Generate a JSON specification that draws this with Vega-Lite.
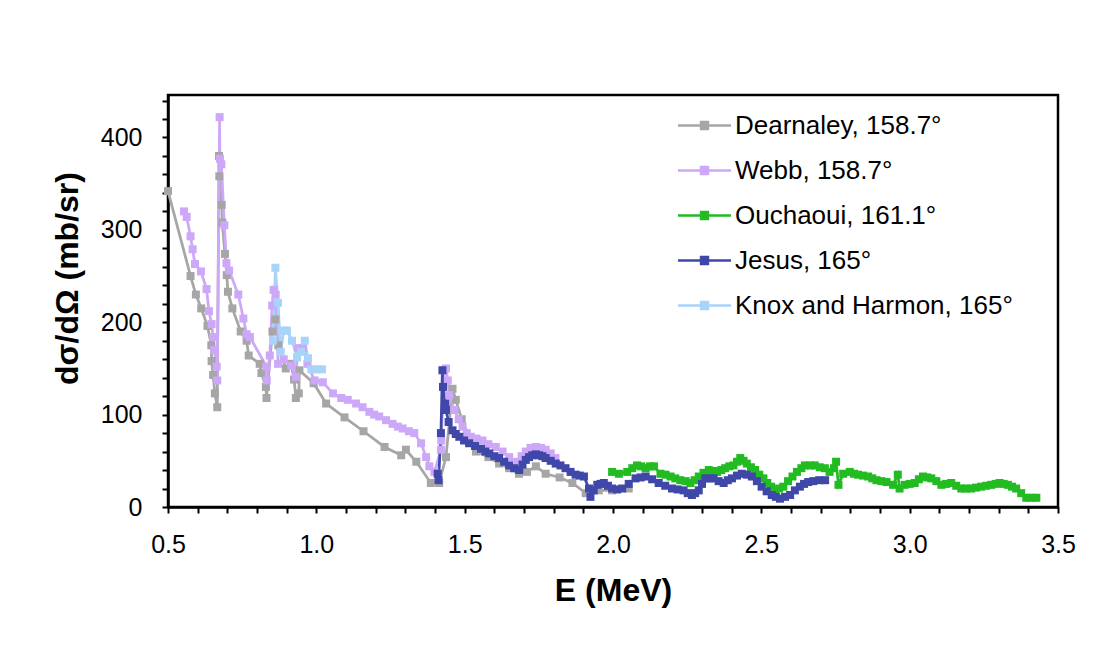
{
  "$schema": "https://vega.github.io/schema/vega-lite/v6.json",
  "width": 890,
  "height": 412,
  "autosize": "none",
  "padding": {"left": 168, "top": 95, "right": 41, "bottom": 141},
  "background": "white",
  "config": {
    "view": {"stroke": "#000", "strokeWidth": 2.5},
    "font": "Liberation Sans"
  },
  "data": {"values": [
    {"s":"D","E":0.500,"v":342,"i":1},{"s":"D","E":0.576,"v":250,"i":2},{"s":"D","E":0.594,"v":230,"i":3},{"s":"D","E":0.612,"v":215,"i":4},{"s":"D","E":0.633,"v":196,"i":5},{"s":"D","E":0.646,"v":175,"i":6},{"s":"D","E":0.647,"v":158,"i":7},{"s":"D","E":0.652,"v":143,"i":8},{"s":"D","E":0.658,"v":123,"i":9},{"s":"D","E":0.666,"v":108,"i":10},{"s":"D","E":0.672,"v":380,"i":11},{"s":"D","E":0.673,"v":358,"i":12},{"s":"D","E":0.681,"v":327,"i":13},{"s":"D","E":0.683,"v":308,"i":14},{"s":"D","E":0.692,"v":274,"i":15},{"s":"D","E":0.698,"v":251,"i":16},{"s":"D","E":0.702,"v":233,"i":17},{"s":"D","E":0.717,"v":215,"i":18},{"s":"D","E":0.745,"v":190,"i":19},{"s":"D","E":0.765,"v":180,"i":20},{"s":"D","E":0.772,"v":164,"i":21},{"s":"D","E":0.809,"v":155,"i":22},{"s":"D","E":0.815,"v":145,"i":23},{"s":"D","E":0.830,"v":130,"i":24},{"s":"D","E":0.832,"v":118,"i":25},{"s":"D","E":0.852,"v":190,"i":26},{"s":"D","E":0.862,"v":203,"i":27},{"s":"D","E":0.872,"v":175,"i":28},{"s":"D","E":0.897,"v":150,"i":29},{"s":"D","E":0.915,"v":155,"i":30},{"s":"D","E":0.925,"v":138,"i":31},{"s":"D","E":0.931,"v":118,"i":32},{"s":"D","E":0.941,"v":123,"i":33},{"s":"D","E":0.943,"v":148,"i":34},{"s":"D","E":0.991,"v":134,"i":35},{"s":"D","E":1.033,"v":112,"i":36},{"s":"D","E":1.095,"v":97,"i":37},{"s":"D","E":1.159,"v":82,"i":38},{"s":"D","E":1.230,"v":65,"i":39},{"s":"D","E":1.286,"v":56,"i":40},{"s":"D","E":1.302,"v":62,"i":41},{"s":"D","E":1.337,"v":49,"i":42},{"s":"D","E":1.386,"v":26,"i":43},{"s":"D","E":1.414,"v":26,"i":44},{"s":"D","E":1.437,"v":54,"i":45},{"s":"D","E":1.459,"v":128,"i":46},{"s":"D","E":1.470,"v":116,"i":47},{"s":"D","E":1.490,"v":95,"i":48},{"s":"D","E":1.520,"v":72,"i":49},{"s":"D","E":1.538,"v":60,"i":50},{"s":"D","E":1.580,"v":54,"i":51},{"s":"D","E":1.616,"v":47,"i":52},{"s":"D","E":1.650,"v":42,"i":53},{"s":"D","E":1.683,"v":36,"i":54},{"s":"D","E":1.710,"v":38,"i":55},{"s":"D","E":1.740,"v":44,"i":56},{"s":"D","E":1.773,"v":36,"i":57},{"s":"D","E":1.820,"v":32,"i":58},{"s":"D","E":1.863,"v":26,"i":59},{"s":"D","E":1.908,"v":15,"i":60},{"s":"D","E":1.952,"v":18,"i":61},{"s":"D","E":1.997,"v":18,"i":62},{"s":"D","E":2.053,"v":20,"i":63},

    {"s":"W","E":0.554,"v":320,"i":101},{"s":"W","E":0.563,"v":314,"i":102},{"s":"W","E":0.576,"v":293,"i":103},{"s":"W","E":0.583,"v":279,"i":104},{"s":"W","E":0.591,"v":263,"i":105},{"s":"W","E":0.611,"v":255,"i":106},{"s":"W","E":0.630,"v":236,"i":107},{"s":"W","E":0.638,"v":212,"i":108},{"s":"W","E":0.647,"v":198,"i":109},{"s":"W","E":0.652,"v":184,"i":110},{"s":"W","E":0.656,"v":170,"i":111},{"s":"W","E":0.664,"v":152,"i":112},{"s":"W","E":0.666,"v":137,"i":113},{"s":"W","E":0.674,"v":422,"i":114},{"s":"W","E":0.675,"v":377,"i":115},{"s":"W","E":0.680,"v":371,"i":116},{"s":"W","E":0.690,"v":305,"i":117},{"s":"W","E":0.697,"v":264,"i":118},{"s":"W","E":0.706,"v":256,"i":119},{"s":"W","E":0.737,"v":230,"i":120},{"s":"W","E":0.754,"v":204,"i":121},{"s":"W","E":0.765,"v":187,"i":122},{"s":"W","E":0.776,"v":184,"i":123},{"s":"W","E":0.832,"v":152,"i":124},{"s":"W","E":0.833,"v":137,"i":125},{"s":"W","E":0.843,"v":164,"i":126},{"s":"W","E":0.851,"v":218,"i":127},{"s":"W","E":0.856,"v":235,"i":128},{"s":"W","E":0.863,"v":230,"i":129},{"s":"W","E":0.871,"v":155,"i":130},{"s":"W","E":0.890,"v":160,"i":131},{"s":"W","E":0.916,"v":153,"i":132},{"s":"W","E":0.931,"v":141,"i":133},{"s":"W","E":0.938,"v":172,"i":134},{"s":"W","E":0.955,"v":172,"i":135},{"s":"W","E":0.970,"v":155,"i":136},{"s":"W","E":0.994,"v":137,"i":137},{"s":"W","E":1.022,"v":135,"i":138},{"s":"W","E":1.056,"v":123,"i":139},{"s":"W","E":1.084,"v":118,"i":140},{"s":"W","E":1.106,"v":116,"i":141},{"s":"W","E":1.134,"v":112,"i":142},{"s":"W","E":1.156,"v":108,"i":143},{"s":"W","E":1.179,"v":103,"i":144},{"s":"W","E":1.195,"v":100,"i":145},{"s":"W","E":1.212,"v":98,"i":146},{"s":"W","E":1.235,"v":94,"i":147},{"s":"W","E":1.257,"v":90,"i":148},{"s":"W","E":1.275,"v":87,"i":149},{"s":"W","E":1.291,"v":85,"i":150},{"s":"W","E":1.312,"v":82,"i":151},{"s":"W","E":1.330,"v":80,"i":152},{"s":"W","E":1.353,"v":69,"i":153},{"s":"W","E":1.370,"v":54,"i":154},{"s":"W","E":1.381,"v":44,"i":155},{"s":"W","E":1.398,"v":38,"i":156},{"s":"W","E":1.420,"v":62,"i":157},{"s":"W","E":1.421,"v":72,"i":158},{"s":"W","E":1.431,"v":148,"i":159},{"s":"W","E":1.437,"v":150,"i":160},{"s":"W","E":1.443,"v":137,"i":161},{"s":"W","E":1.448,"v":121,"i":162},{"s":"W","E":1.465,"v":105,"i":163},{"s":"W","E":1.480,"v":95,"i":164},{"s":"W","E":1.493,"v":87,"i":165},{"s":"W","E":1.507,"v":80,"i":166},{"s":"W","E":1.521,"v":76,"i":167},{"s":"W","E":1.540,"v":74,"i":168},{"s":"W","E":1.560,"v":72,"i":169},{"s":"W","E":1.580,"v":68,"i":170},{"s":"W","E":1.605,"v":65,"i":171},{"s":"W","E":1.628,"v":60,"i":172},{"s":"W","E":1.650,"v":54,"i":173},{"s":"W","E":1.678,"v":49,"i":174},{"s":"W","E":1.692,"v":55,"i":175},{"s":"W","E":1.706,"v":60,"i":176},{"s":"W","E":1.722,"v":64,"i":177},{"s":"W","E":1.740,"v":65,"i":178},{"s":"W","E":1.757,"v":64,"i":179},{"s":"W","E":1.773,"v":62,"i":180},{"s":"W","E":1.790,"v":58,"i":181},{"s":"W","E":1.806,"v":53,"i":182},

    {"s":"O","E":1.997,"v":38,"i":201},{"s":"O","E":2.020,"v":36,"i":202},{"s":"O","E":2.048,"v":38,"i":203},{"s":"O","E":2.065,"v":42,"i":204},{"s":"O","E":2.081,"v":45,"i":205},{"s":"O","E":2.095,"v":44,"i":206},{"s":"O","E":2.110,"v":42,"i":207},{"s":"O","E":2.125,"v":44,"i":208},{"s":"O","E":2.138,"v":44,"i":209},{"s":"O","E":2.160,"v":36,"i":210},{"s":"O","E":2.177,"v":35,"i":211},{"s":"O","E":2.194,"v":33,"i":212},{"s":"O","E":2.210,"v":31,"i":213},{"s":"O","E":2.227,"v":29,"i":214},{"s":"O","E":2.245,"v":28,"i":215},{"s":"O","E":2.261,"v":26,"i":216},{"s":"O","E":2.275,"v":29,"i":217},{"s":"O","E":2.289,"v":33,"i":218},{"s":"O","E":2.305,"v":37,"i":219},{"s":"O","E":2.323,"v":40,"i":220},{"s":"O","E":2.337,"v":39,"i":221},{"s":"O","E":2.351,"v":38,"i":222},{"s":"O","E":2.365,"v":40,"i":223},{"s":"O","E":2.378,"v":42,"i":224},{"s":"O","E":2.392,"v":44,"i":225},{"s":"O","E":2.406,"v":45,"i":226},{"s":"O","E":2.418,"v":49,"i":227},{"s":"O","E":2.429,"v":53,"i":228},{"s":"O","E":2.440,"v":50,"i":229},{"s":"O","E":2.451,"v":47,"i":230},{"s":"O","E":2.465,"v":43,"i":231},{"s":"O","E":2.479,"v":40,"i":232},{"s":"O","E":2.493,"v":35,"i":233},{"s":"O","E":2.507,"v":31,"i":234},{"s":"O","E":2.520,"v":26,"i":235},{"s":"O","E":2.533,"v":22,"i":236},{"s":"O","E":2.546,"v":18,"i":237},{"s":"O","E":2.560,"v":20,"i":238},{"s":"O","E":2.574,"v":22,"i":239},{"s":"O","E":2.590,"v":28,"i":240},{"s":"O","E":2.605,"v":33,"i":241},{"s":"O","E":2.620,"v":38,"i":242},{"s":"O","E":2.635,"v":42,"i":243},{"s":"O","E":2.647,"v":45,"i":244},{"s":"O","E":2.665,"v":45,"i":245},{"s":"O","E":2.680,"v":45,"i":246},{"s":"O","E":2.697,"v":43,"i":247},{"s":"O","E":2.714,"v":42,"i":248},{"s":"O","E":2.730,"v":38,"i":249},{"s":"O","E":2.745,"v":42,"i":250},{"s":"O","E":2.752,"v":49,"i":251},{"s":"O","E":2.760,"v":24,"i":252},{"s":"O","E":2.776,"v":36,"i":253},{"s":"O","E":2.798,"v":38,"i":254},{"s":"O","E":2.812,"v":36,"i":255},{"s":"O","E":2.826,"v":35,"i":256},{"s":"O","E":2.843,"v":34,"i":257},{"s":"O","E":2.860,"v":33,"i":258},{"s":"O","E":2.874,"v":31,"i":259},{"s":"O","E":2.888,"v":29,"i":260},{"s":"O","E":2.905,"v":28,"i":261},{"s":"O","E":2.922,"v":27,"i":262},{"s":"O","E":2.944,"v":24,"i":263},{"s":"O","E":2.960,"v":35,"i":264},{"s":"O","E":2.966,"v":20,"i":265},{"s":"O","E":2.983,"v":24,"i":266},{"s":"O","E":3.000,"v":25,"i":267},{"s":"O","E":3.017,"v":26,"i":268},{"s":"O","E":3.031,"v":30,"i":269},{"s":"O","E":3.045,"v":33,"i":270},{"s":"O","E":3.059,"v":32,"i":271},{"s":"O","E":3.073,"v":31,"i":272},{"s":"O","E":3.090,"v":28,"i":273},{"s":"O","E":3.107,"v":24,"i":274},{"s":"O","E":3.123,"v":25,"i":275},{"s":"O","E":3.140,"v":26,"i":276},{"s":"O","E":3.157,"v":23,"i":277},{"s":"O","E":3.174,"v":20,"i":278},{"s":"O","E":3.190,"v":20,"i":279},{"s":"O","E":3.207,"v":20,"i":280},{"s":"O","E":3.224,"v":21,"i":281},{"s":"O","E":3.241,"v":22,"i":282},{"s":"O","E":3.258,"v":23,"i":283},{"s":"O","E":3.275,"v":24,"i":284},{"s":"O","E":3.290,"v":25,"i":285},{"s":"O","E":3.303,"v":26,"i":286},{"s":"O","E":3.317,"v":25,"i":287},{"s":"O","E":3.331,"v":24,"i":288},{"s":"O","E":3.345,"v":22,"i":289},{"s":"O","E":3.359,"v":20,"i":290},{"s":"O","E":3.376,"v":15,"i":291},{"s":"O","E":3.393,"v":10,"i":292},{"s":"O","E":3.410,"v":10,"i":293},{"s":"O","E":3.427,"v":10,"i":294},

    {"s":"J","E":1.409,"v":36,"i":301},{"s":"J","E":1.412,"v":29,"i":302},{"s":"J","E":1.420,"v":80,"i":303},{"s":"J","E":1.425,"v":148,"i":304},{"s":"J","E":1.427,"v":130,"i":305},{"s":"J","E":1.435,"v":112,"i":306},{"s":"J","E":1.437,"v":105,"i":307},{"s":"J","E":1.446,"v":92,"i":308},{"s":"J","E":1.459,"v":83,"i":309},{"s":"J","E":1.470,"v":79,"i":310},{"s":"J","E":1.482,"v":76,"i":311},{"s":"J","E":1.498,"v":72,"i":312},{"s":"J","E":1.515,"v":69,"i":313},{"s":"J","E":1.535,"v":66,"i":314},{"s":"J","E":1.555,"v":63,"i":315},{"s":"J","E":1.570,"v":60,"i":316},{"s":"J","E":1.583,"v":58,"i":317},{"s":"J","E":1.600,"v":55,"i":318},{"s":"J","E":1.616,"v":53,"i":319},{"s":"J","E":1.633,"v":49,"i":320},{"s":"J","E":1.650,"v":45,"i":321},{"s":"J","E":1.667,"v":42,"i":322},{"s":"J","E":1.684,"v":40,"i":323},{"s":"J","E":1.695,"v":46,"i":324},{"s":"J","E":1.706,"v":51,"i":325},{"s":"J","E":1.717,"v":54,"i":326},{"s":"J","E":1.728,"v":56,"i":327},{"s":"J","E":1.740,"v":57,"i":328},{"s":"J","E":1.751,"v":56,"i":329},{"s":"J","E":1.762,"v":55,"i":330},{"s":"J","E":1.773,"v":53,"i":331},{"s":"J","E":1.790,"v":50,"i":332},{"s":"J","E":1.807,"v":47,"i":333},{"s":"J","E":1.823,"v":45,"i":334},{"s":"J","E":1.840,"v":42,"i":335},{"s":"J","E":1.857,"v":38,"i":336},{"s":"J","E":1.874,"v":35,"i":337},{"s":"J","E":1.888,"v":34,"i":338},{"s":"J","E":1.902,"v":33,"i":339},{"s":"J","E":1.919,"v":20,"i":340},{"s":"J","E":1.924,"v":11,"i":341},{"s":"J","E":1.935,"v":18,"i":342},{"s":"J","E":1.947,"v":24,"i":343},{"s":"J","E":1.958,"v":25,"i":344},{"s":"J","E":1.969,"v":26,"i":345},{"s":"J","E":1.983,"v":23,"i":346},{"s":"J","E":1.997,"v":20,"i":347},{"s":"J","E":2.014,"v":19,"i":348},{"s":"J","E":2.031,"v":20,"i":349},{"s":"J","E":2.053,"v":25,"i":350},{"s":"J","E":2.076,"v":31,"i":351},{"s":"J","E":2.093,"v":32,"i":352},{"s":"J","E":2.110,"v":33,"i":353},{"s":"J","E":2.132,"v":30,"i":354},{"s":"J","E":2.154,"v":26,"i":355},{"s":"J","E":2.176,"v":23,"i":356},{"s":"J","E":2.199,"v":20,"i":357},{"s":"J","E":2.218,"v":19,"i":358},{"s":"J","E":2.238,"v":18,"i":359},{"s":"J","E":2.252,"v":15,"i":360},{"s":"J","E":2.266,"v":13,"i":361},{"s":"J","E":2.277,"v":15,"i":362},{"s":"J","E":2.289,"v":18,"i":363},{"s":"J","E":2.300,"v":25,"i":364},{"s":"J","E":2.311,"v":31,"i":365},{"s":"J","E":2.325,"v":31,"i":366},{"s":"J","E":2.339,"v":31,"i":367},{"s":"J","E":2.356,"v":28,"i":368},{"s":"J","E":2.373,"v":26,"i":369},{"s":"J","E":2.387,"v":29,"i":370},{"s":"J","E":2.401,"v":31,"i":371},{"s":"J","E":2.418,"v":34,"i":372},{"s":"J","E":2.434,"v":36,"i":373},{"s":"J","E":2.451,"v":35,"i":374},{"s":"J","E":2.468,"v":33,"i":375},{"s":"J","E":2.485,"v":28,"i":376},{"s":"J","E":2.501,"v":22,"i":377},{"s":"J","E":2.518,"v":17,"i":378},{"s":"J","E":2.535,"v":13,"i":379},{"s":"J","E":2.549,"v":11,"i":380},{"s":"J","E":2.563,"v":9,"i":381},{"s":"J","E":2.580,"v":11,"i":382},{"s":"J","E":2.597,"v":13,"i":383},{"s":"J","E":2.613,"v":18,"i":384},{"s":"J","E":2.630,"v":22,"i":385},{"s":"J","E":2.644,"v":25,"i":386},{"s":"J","E":2.658,"v":27,"i":387},{"s":"J","E":2.675,"v":28,"i":388},{"s":"J","E":2.695,"v":29,"i":389},{"s":"J","E":2.715,"v":29,"i":390},

    {"s":"K","E":0.854,"v":180,"i":401},{"s":"K","E":0.862,"v":259,"i":402},{"s":"K","E":0.871,"v":221,"i":403},{"s":"K","E":0.880,"v":168,"i":404},{"s":"K","E":0.890,"v":191,"i":405},{"s":"K","E":0.901,"v":191,"i":406},{"s":"K","E":0.918,"v":180,"i":407},{"s":"K","E":0.935,"v":162,"i":408},{"s":"K","E":0.949,"v":168,"i":409},{"s":"K","E":0.961,"v":180,"i":410},{"s":"K","E":0.972,"v":161,"i":411},{"s":"K","E":0.983,"v":149,"i":412},{"s":"K","E":1.005,"v":149,"i":413},{"s":"K","E":1.019,"v":149,"i":414}
  ]},
  "mark": {"type": "line", "strokeWidth": 2.75, "point": {"shape": "square", "filled": true, "size": 64, "opacity": 1}},
  "encoding": {
    "x": {
      "field": "E", "type": "quantitative",
      "scale": {"domain": [0.5, 3.5], "nice": false, "zero": false},
      "axis": {
        "values": [0.5,0.6,0.7,0.8,0.9,1.0,1.1,1.2,1.3,1.4,1.5,1.6,1.7,1.8,1.9,2.0,2.1,2.2,2.3,2.4,2.5,2.6,2.7,2.8,2.9,3.0,3.1,3.2,3.3,3.4,3.5],
        "labelExpr": "(round(datum.value*10) % 5 == 0) ? format(datum.value, '.1f') : ''",
        "title": "E (MeV)", "titleFontSize": 32, "titleFontWeight": "bold", "titleColor": "#000", "titlePadding": 18,
        "labelFontSize": 25, "labelColor": "#000", "labelPadding": 19, "labelFlush": false, "labelOverlap": false,
        "tickColor": "#000", "tickSize": 6, "tickWidth": 2, "domainColor": "#000", "domainWidth": 2.5, "grid": false
      }
    },
    "y": {
      "field": "v", "type": "quantitative",
      "scale": {"domain": [0, 446], "nice": false},
      "axis": {
        "values": [0,20,40,60,80,100,120,140,160,180,200,220,240,260,280,300,320,340,360,380,400,420,440],
        "labelExpr": "(datum.value % 100 == 0) ? datum.label : ''",
        "title": "dσ/dΩ (mb/sr)", "titleFontSize": 32, "titleFontWeight": "bold", "titleColor": "#000", "titlePadding": 16, "titleY": 183,
        "labelFontSize": 25, "labelColor": "#000", "labelPadding": 20, "labelFlush": false, "labelOverlap": false,
        "tickColor": "#000", "tickSize": 6, "tickWidth": 2, "domainColor": "#000", "domainWidth": 2.5, "grid": false
      }
    },
    "color": {
      "field": "s", "type": "nominal",
      "scale": {"domain": ["D","W","O","J","K"], "range": ["#A6A6A6","#CDA8F8","#22BB22","#3F47A8","#A8D4FA"]},
      "legend": {
        "orient": "none", "legendX": 522, "legendY": 16, "title": null, "padding": 0,
        "labelExpr": "datum.label == 'D' ? 'Dearnaley, 158.7°' : datum.label == 'W' ? 'Webb, 158.7°' : datum.label == 'O' ? 'Ouchaoui, 161.1°' : datum.label == 'J' ? 'Jesus, 165°' : 'Knox and Harmon, 165°'",
        "labelFontSize": 26, "labelColor": "#000", "labelLimit": 400, "labelOffset": 16,
        "symbolType": "M-2,0H2M-0.26,-0.26H0.26V0.26H-0.26Z", "symbolSize": 702, "symbolStrokeWidth": 2.5,
        "rowPadding": 17,
        "encode": {"symbols": {"update": {"fill": {"scale": "color", "field": "value"}, "stroke": {"scale": "color", "field": "value"}, "strokeWidth": {"value": 2.5}, "opacity": {"value": 1}}}}
      }
    },
    "order": {"field": "i", "type": "quantitative"}
  }
}
